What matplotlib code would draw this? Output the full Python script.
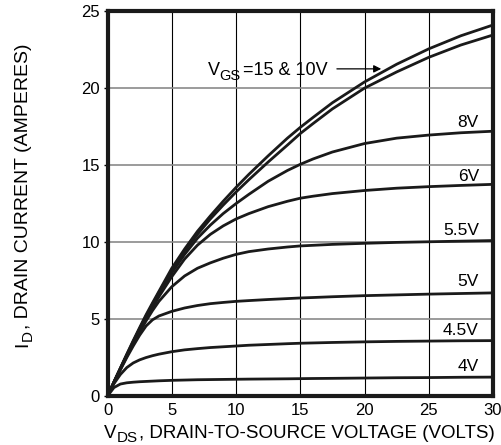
import numpy as np
import matplotlib
matplotlib.use('Agg')
import matplotlib.pyplot as plt
from matplotlib.transforms import IdentityTransform

plt.rcParams['font.family'] = ['Liberation Sans', 'DejaVu Sans']

# %% Output characteristics: drain current (A) vs drain-source voltage (V)
vds = [0, 0.5, 1, 1.5, 2, 2.5, 3, 3.5, 4, 5, 6, 7, 8, 9, 10, 11, 12.5, 14, 15,
       16, 17.5, 20, 22.5, 25, 27.5, 30]

id_15v = [0, 0.92, 1.82, 2.72, 3.6, 4.45, 5.28, 6.05, 6.8, 8.3, 9.55, 10.7, 11.7,
          12.65, 13.55, 14.4, 15.6, 16.75, 17.45, 18.1, 19.05, 20.4, 21.55, 22.55,
          23.4, 24.1]
id_10v = [0, 0.91, 1.8, 2.68, 3.55, 4.38, 5.2, 5.96, 6.72, 8.15, 9.42, 10.5, 11.5,
          12.4, 13.25, 14.05, 15.2, 16.3, 17.05, 17.7, 18.65, 20.0, 21.05, 22.0,
          22.8, 23.45]
id_8v = [0, 0.9, 1.78, 2.65, 3.5, 4.3, 5.1, 5.85, 6.6, 8.0, 9.2, 10.25, 11.1,
         11.85, 12.5, 13.1, 13.95, 14.65, 15.05, 15.4, 15.85, 16.4, 16.75, 16.95,
         17.1, 17.2]
id_6v = [0, 0.9, 1.77, 2.62, 3.45, 4.25, 5.02, 5.75, 6.45, 7.75, 8.9, 9.8, 10.5,
         11.05, 11.5, 11.85, 12.3, 12.65, 12.85, 12.98, 13.15, 13.35, 13.5, 13.6,
         13.68, 13.75]
id_5v5 = [0, 0.88, 1.74, 2.58, 3.38, 4.15, 4.88, 5.55, 6.15, 7.1, 7.8, 8.3, 8.65,
          8.95, 9.2, 9.38, 9.55, 9.68, 9.75, 9.79, 9.85, 9.92, 9.98, 10.02, 10.06,
          10.1]
id_5v = [0, 0.86, 1.7, 2.5, 3.25, 3.95, 4.55, 4.95, 5.2, 5.5, 5.72, 5.88, 6.0,
         6.08, 6.15, 6.2, 6.27, 6.33, 6.37, 6.4, 6.45, 6.52, 6.57, 6.62, 6.66, 6.7]
id_4v5 = [0, 0.8, 1.4, 1.85, 2.15, 2.35, 2.5, 2.62, 2.72, 2.88, 3.0, 3.08, 3.15,
          3.2, 3.25, 3.3, 3.35, 3.4, 3.43, 3.45, 3.48, 3.52, 3.55, 3.57, 3.59, 3.6]
id_4v = [0, 0.55, 0.78, 0.86, 0.9, 0.93, 0.95, 0.97, 0.99, 1.02, 1.04, 1.06, 1.07,
         1.08, 1.09, 1.1, 1.11, 1.12, 1.13, 1.14, 1.15, 1.17, 1.19, 1.2, 1.22, 1.23]

curves = [id_15v, id_10v, id_8v, id_6v, id_5v5, id_5v, id_4v5, id_4v]

# gate voltage labels at the right end of each curve (text, baseline current)
labels = ['8V', '6V', '5.5V', '5V', '4.5V', '4V']
label_y = [17.48, 13.94, 10.47, 7.12, 3.98, 1.6]

fig = plt.figure(figsize=(5.01, 4.45), dpi=100)
ax = fig.add_axes([0.2146, 0.110, 0.7695, 0.865])
renderer = fig.canvas.get_renderer()


def rich_text(x0, y0, parts, rotation=0):
    """Write text pieces one after another, starting at display pixel (x0, y0).
    parts: (string, fontsize, downward shift in pixels, extra gap after)"""
    pos = 0
    for s, size, shift, gap in parts:
        if rotation == 0:
            t = fig.text(x0 + pos, y0 - shift, s, fontsize=size, ha='left',
                         va='baseline', transform=IdentityTransform())
            pos += t.get_window_extent(renderer).width + gap
        else:
            t = fig.text(x0 + shift, y0 + pos, s, fontsize=size, ha='left',
                         va='baseline', rotation=90, rotation_mode='anchor',
                         transform=IdentityTransform())
            pos += t.get_window_extent(renderer).height + gap


for i_d in curves:
    ax.plot(vds, i_d, color='#1a1a1a', lw=2.0, solid_joinstyle='round',
            solid_capstyle='round', zorder=3)

for txt, y in zip(labels, label_y):
    ax.text(28.9, y, txt, ha='right', va='baseline', fontsize=12.5, zorder=4)

ax.annotate('', xy=(21.3, 21.25), xytext=(17.85, 21.25),
            arrowprops=dict(arrowstyle='-|>', color='black', lw=0.9,
                            mutation_scale=11, shrinkA=0, shrinkB=0))

ax.set_xlim(0, 30)
ax.set_ylim(0, 25)
ax.set_xticks(np.arange(0, 31, 5))
ax.set_yticks(np.arange(0, 26, 5))

# vertical grid black, horizontal grid grey
for x in range(5, 30, 5):
    ax.axvline(x, color='black', lw=0.8, zorder=1)
for y in range(5, 25, 5):
    ax.axhline(y, color='#8a8a8a', lw=1.2, zorder=1)

for s in ax.spines.values():
    s.set_linewidth(3.0)
    s.set_color('#1a1a1a')

ax.tick_params(axis='x', length=0, pad=5, labelsize=12)
ax.tick_params(axis='y', length=3, width=1, pad=2.5, labelsize=12)

# text with subscripts, positioned in pixels
rich_text(208, 370, [('V', 13, 0, -1), ('GS', 10.5, 5, 2.5),
                     ('=15 & 10V', 13, 0, 0)])
rich_text(104, 7, [('V', 13.5, 0, 0), ('DS', 11, 4, 1),
                   (', DRAIN-TO-SOURCE VOLTAGE (VOLTS)', 13.5, 0, 0)])
rich_text(27.5, 98, [('I', 14, 0, 0.5), ('D', 11, 4, 1),
                     (', DRAIN CURRENT (AMPERES)', 14, 0, 0)], rotation=90)

plt.savefig('out.png', dpi=100)
